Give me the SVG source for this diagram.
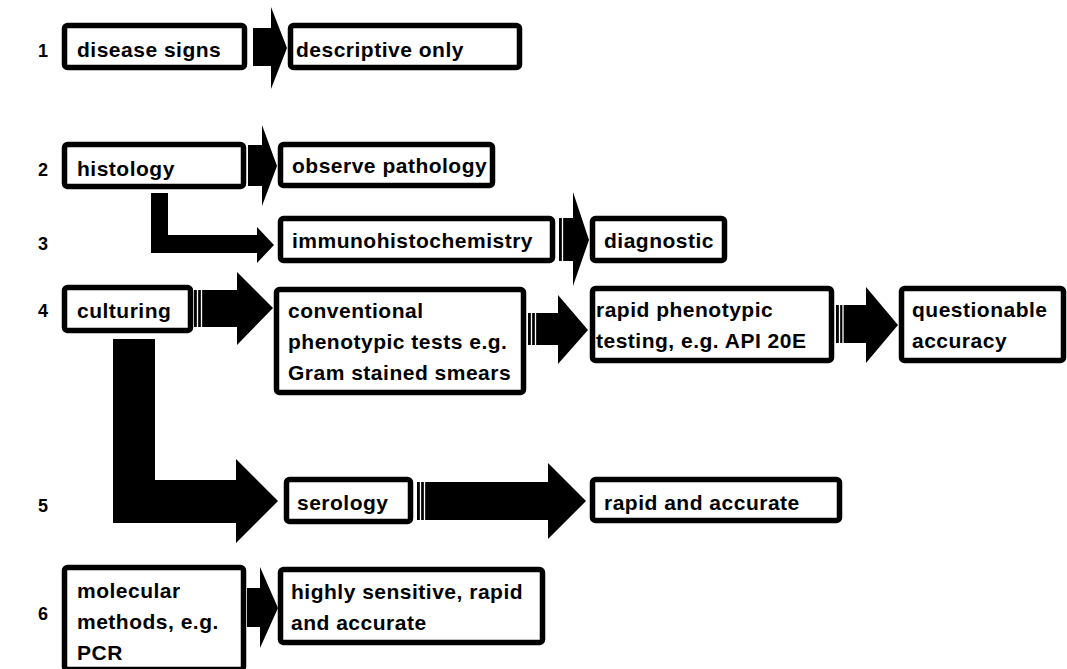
<svg xmlns="http://www.w3.org/2000/svg" width="1067" height="669" viewBox="0 0 1067 669">
<style>
.box{fill:#fff;stroke:#000;stroke-width:5.5;}
.t{font-family:"Liberation Sans",Arial,sans-serif;font-weight:bold;font-size:21px;letter-spacing:0.5px;fill:#000;}
.n{font-family:"Liberation Sans",Arial,sans-serif;font-weight:bold;font-size:18px;fill:#000;}
.arr{fill:#000;stroke:none;}
.gap{stroke:#fff;stroke-width:1.3;}
</style>
<rect width="1067" height="669" fill="#fff"/>
<g id="labels">
<text class="n" x="38" y="57">1</text>
<text class="n" x="38" y="176">2</text>
<text class="n" x="38" y="250">3</text>
<text class="n" x="38" y="317">4</text>
<text class="n" x="38" y="512">5</text>
<text class="n" x="38" y="620">6</text>
</g>
<g id="connectors">
<polygon class="arr" points="253,28 271,28 271,7 287,48 271,89 271,66 253,66"/>
<polygon class="arr" points="248,145 262,145 262,125 277,166 262,206 262,186 248,186"/>
<polygon class="arr" points="151,193 168,193 168,235 257,235 257,227 274,245 257,263 257,253 151,253"/>
<polygon class="arr" points="559,218 573,218 573,192 589,240 573,286 573,261 559,261"/>
<line class="gap" x1="562.5" y1="218" x2="562.5" y2="261"/>
<polygon class="arr" points="194,290 237,290 237,272 273,308 237,345 237,327 194,327"/>
<line class="gap" x1="197.5" y1="290" x2="197.5" y2="327"/>
<line class="gap" x1="201.5" y1="290" x2="201.5" y2="327"/>
<polygon class="arr" points="528,313 558,313 558,295 588,330 558,364 558,345 528,345"/>
<line class="gap" x1="531.5" y1="313" x2="531.5" y2="345"/>
<line class="gap" x1="535.5" y1="313" x2="535.5" y2="345"/>
<polygon class="arr" points="836,305 866,305 866,287 898,325 866,363 866,343 836,343"/>
<line class="gap" x1="839.5" y1="305" x2="839.5" y2="343"/>
<line class="gap" x1="843" y1="305" x2="843" y2="343"/>
<polygon class="arr" points="113,339 155,339 155,480 236,480 236,459 278,501 236,543 236,523 113,523"/>
<polygon class="arr" points="417,482 548,482 548,463 586,501 548,539 548,520 417,520"/>
<line class="gap" x1="420.5" y1="482" x2="420.5" y2="520"/>
<line class="gap" x1="424.5" y1="482" x2="424.5" y2="520"/>
<polygon class="arr" points="247,588 260,588 260,567 278,608 260,648 260,627 247,627"/>
</g>
<g id="n-disease-signs"><rect class="box" x="64.5" y="25.5" width="180" height="42" rx="3"/><text class="t" x="77" y="57">disease signs</text></g>
<g id="n-descriptive-only"><rect class="box" x="290.5" y="25.5" width="229" height="42" rx="3"/><text class="t" x="296" y="57">descriptive only</text></g>
<g id="n-histology"><rect class="box" x="64.5" y="144.5" width="179" height="42" rx="3"/><text class="t" x="77" y="176">histology</text></g>
<g id="n-observe-pathology"><rect class="box" x="280.5" y="144.5" width="212" height="41" rx="3"/><text class="t" x="292" y="173">observe pathology</text></g>
<g id="n-immuno"><rect class="box" x="280.5" y="218.5" width="272" height="42" rx="3"/><text class="t" x="292" y="248">immunohistochemistry</text></g>
<g id="n-diagnostic"><rect class="box" x="592.5" y="218.5" width="132" height="42" rx="3"/><text class="t" x="604" y="248">diagnostic</text></g>
<g id="n-culturing"><rect class="box" x="64.5" y="287.5" width="126" height="43" rx="3"/><text class="t" x="77" y="318">culturing</text></g>
<g id="n-conventional"><rect class="box" x="276.5" y="289.5" width="247" height="103" rx="3"/><text class="t" x="288" y="318">conventional</text><text class="t" x="288" y="349">phenotypic tests e.g.</text><text class="t" x="288" y="380">Gram stained smears</text></g>
<g id="n-rapid-phenotypic"><rect class="box" x="592.5" y="288.5" width="239" height="72" rx="3"/><text class="t" x="596" y="317">rapid phenotypic</text><text class="t" x="596" y="348">testing, e.g. API 20E</text></g>
<g id="n-questionable"><rect class="box" x="901.5" y="288.5" width="162" height="72" rx="3"/><text class="t" x="912" y="317">questionable</text><text class="t" x="912" y="348">accuracy</text></g>
<g id="n-serology"><rect class="box" x="286.5" y="479.5" width="124" height="42" rx="3"/><text class="t" x="297" y="510">serology</text></g>
<g id="n-rapid-accurate"><rect class="box" x="592.5" y="479.5" width="247" height="41" rx="3"/><text class="t" x="604" y="510">rapid and accurate</text></g>
<g id="n-molecular"><rect class="box" x="64.5" y="567.5" width="179" height="102" rx="3"/><text class="t" x="77" y="598">molecular</text><text class="t" x="77" y="629">methods, e.g.</text><text class="t" x="77" y="660">PCR</text></g>
<g id="n-highly-sensitive"><rect class="box" x="280.5" y="569.5" width="262" height="73" rx="3"/><text class="t" x="291" y="599">highly sensitive, rapid</text><text class="t" x="291" y="630">and accurate</text></g>
</svg>
